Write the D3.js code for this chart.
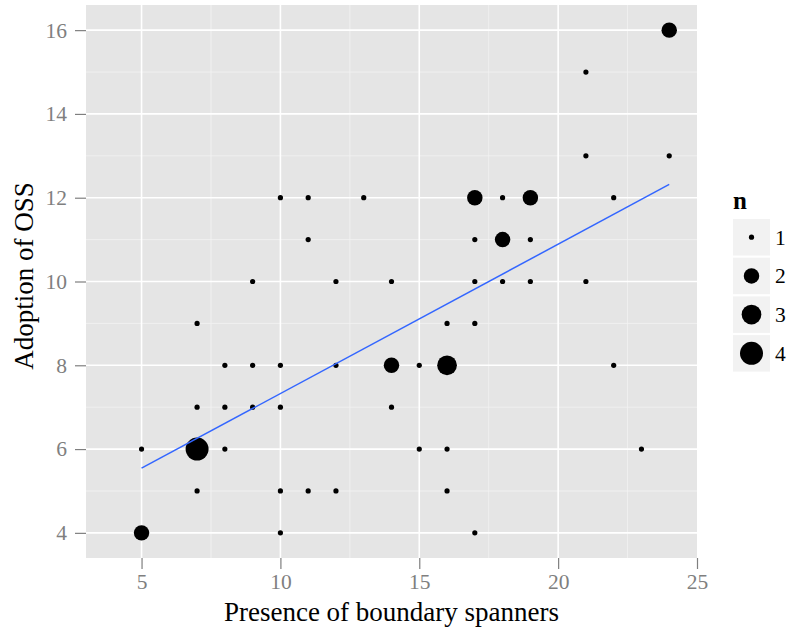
<!DOCTYPE html>
<html>
<head>
<meta charset="utf-8">
<script src="https://cdn.jsdelivr.net/npm/d3@7"></script>
<style>
  body { margin: 0; background: #fff; }
  svg text { font-family: "Liberation Serif", "DejaVu Serif", serif; }
</style>
</head>
<body>
<svg id="chart" width="790" height="634"></svg>
<script>
// data: one entry per distinct (x, y) pair, n = how many
const spanners = [5, 5, 7, 7, 7, 7, 8, 8, 8, 9, 9, 9, 10, 10, 10, 10, 10, 11, 11, 11, 12, 12, 12, 13,
    14, 14, 14, 15, 15, 16, 16, 16, 16, 17, 17, 17, 17, 17, 18, 18, 18, 19, 19, 19, 21, 21, 21, 22, 22, 23, 24, 24];
const adoption = [6, 4, 9, 7, 6, 5, 8, 7, 6, 10, 8, 7, 12, 8, 7, 5, 4, 12, 11, 5, 10, 8, 5, 12,
    10, 8, 7, 8, 6, 9, 8, 6, 5, 12, 11, 10, 9, 4, 12, 11, 10, 12, 11, 10, 15, 13, 10, 12, 8, 6, 16, 13];
const counts = [1, 2, 1, 1, 4, 1, 1, 1, 1, 1, 1, 1, 1, 1, 1, 1, 1, 1, 1, 1, 1, 1, 1, 1,
    1, 2, 1, 1, 1, 1, 3, 1, 1, 2, 1, 1, 1, 1, 1, 2, 1, 2, 1, 1, 1, 1, 1, 1, 1, 1, 2, 1];

const xTicks = [5, 10, 15, 20, 25];
const xMinor = [7.5, 12.5, 17.5, 22.5];
const yTicks = [4, 6, 8, 10, 12, 14, 16];
const yMinor = [5, 7, 9, 11, 13, 15];
const legendLevels = [1, 2, 3, 4];

const points = spanners.map((x, i) => ({x: x, y: adoption[i], n: counts[i]}));

const svg = d3.select('#chart');
const pLeft = 86, pRight = 697, pTop = 5, pBottom = 558;

var x = d3.scaleLinear().domain([3, 25]).range([pLeft, pRight]);
var y = d3.scaleLinear().domain([3.4, 16.6]).range([pBottom, pTop]);
// size is area-like: radius grows with sqrt of (n - 1)
var grow = d3.scaleSqrt().domain([0, 3]).range([0, 8.9]);
var radius = n => 2.6 + grow(n - 1);

// panel
svg.append('rect')
    .attr('x', pLeft).attr('y', pTop)
    .attr('width', pRight - pLeft).attr('height', pBottom - pTop)
    .attr('fill', '#e5e5e5');

// minor grid
svg.append('g').selectAll('line').data(xMinor).enter().append('line')
    .attr('x1', d => x(d)).attr('x2', d => x(d))
    .attr('y1', pTop).attr('y2', pBottom)
    .attr('stroke', '#f2f2f2').attr('stroke-width', 0.8);
svg.append('g').selectAll('line').data(yMinor).enter().append('line')
    .attr('y1', d => y(d)).attr('y2', d => y(d))
    .attr('x1', pLeft).attr('x2', pRight)
    .attr('stroke', '#f2f2f2').attr('stroke-width', 0.8);

// major grid
svg.append('g').selectAll('line').data(xTicks.filter(d => x(d) < pRight)).enter().append('line')
    .attr('x1', d => x(d)).attr('x2', d => x(d))
    .attr('y1', pTop).attr('y2', pBottom)
    .attr('stroke', '#fff').attr('stroke-width', 1.6);
svg.append('g').selectAll('line').data(yTicks).enter().append('line')
    .attr('y1', d => y(d)).attr('y2', d => y(d))
    .attr('x1', pLeft).attr('x2', pRight)
    .attr('stroke', '#fff').attr('stroke-width', 1.6);

// axes
var xAxis = svg.append('g')
    .attr('transform', 'translate(0,' + pBottom + ')')
    .call(d3.axisBottom(x).tickValues(xTicks).tickSize(11).tickPadding(5));
var yAxis = svg.append('g')
    .attr('transform', 'translate(' + pLeft + ',0)')
    .call(d3.axisLeft(y).tickValues(yTicks).tickSize(11).tickPadding(8));
[xAxis, yAxis].forEach(function (g) {
    g.attr('font-family', '"Liberation Serif", serif').attr('font-size', 21.5);
    g.select('.domain').remove();
    g.selectAll('line').attr('stroke', '#7f7f7f').attr('stroke-width', 1.2);
    g.selectAll('text').attr('fill', '#7f7f7f');
});
xAxis.selectAll('text').attr('dy', '0.72em');

// points
svg.append('g').selectAll('circle').data(points).enter().append('circle')
    .attr('cx', d => x(d.x))
    .attr('cy', d => y(d.y))
    .attr('r', d => radius(d.n))
    .attr('fill', '#000');

// linear fit (every observation counted n times)
var N = d3.sum(points, d => d.n);
var mx = d3.sum(points, d => d.n * d.x) / N;
var my = d3.sum(points, d => d.n * d.y) / N;
var sxy = d3.sum(points, d => d.n * (d.x - mx) * (d.y - my));
var sxx = d3.sum(points, d => d.n * (d.x - mx) * (d.x - mx));
var slope = sxy / sxx, intercept = my - slope * mx;
var xr = d3.extent(spanners);

svg.append('path')
    .datum(xr.map(v => ({x: v, y: intercept + slope * v})))
    .attr('d', d3.line().x(d => x(d.x)).y(d => y(d.y)))
    .attr('fill', 'none')
    .attr('stroke', '#3366ff')
    .attr('stroke-width', 1.5);

// axis titles
svg.append('text')
    .attr('x', (pLeft + pRight) / 2).attr('y', 621)
    .attr('text-anchor', 'middle')
    .style('font-size', '27px')
    .text('Presence of boundary spanners');
svg.append('text')
    .attr('transform', 'translate(33,276) rotate(-90)')
    .attr('text-anchor', 'middle')
    .style('font-size', '27px')
    .text('Adoption of OSS');

// legend
var legend = svg.append('g');
legend.append('text')
    .attr('x', 733).attr('y', 209)
    .style('font-size', '25px').style('font-weight', 'bold')
    .text('n');
var keys = legend.selectAll('g.key').data(legendLevels).enter().append('g')
    .attr('class', 'key')
    .attr('transform', (d, i) => 'translate(733,' + (219 + i * 38.7) + ')');
keys.append('rect')
    .attr('width', 37).attr('height', 36.5)
    .attr('fill', '#f2f2f2');
keys.append('circle')
    .attr('cx', 18.5).attr('cy', 18.2)
    .attr('r', d => radius(d))
    .attr('fill', '#000');
keys.append('text')
    .attr('x', 42).attr('y', 18.2).attr('dy', '0.35em')
    .style('font-size', '21.5px')
    .text(d => d);
</script>
</body>
</html>
